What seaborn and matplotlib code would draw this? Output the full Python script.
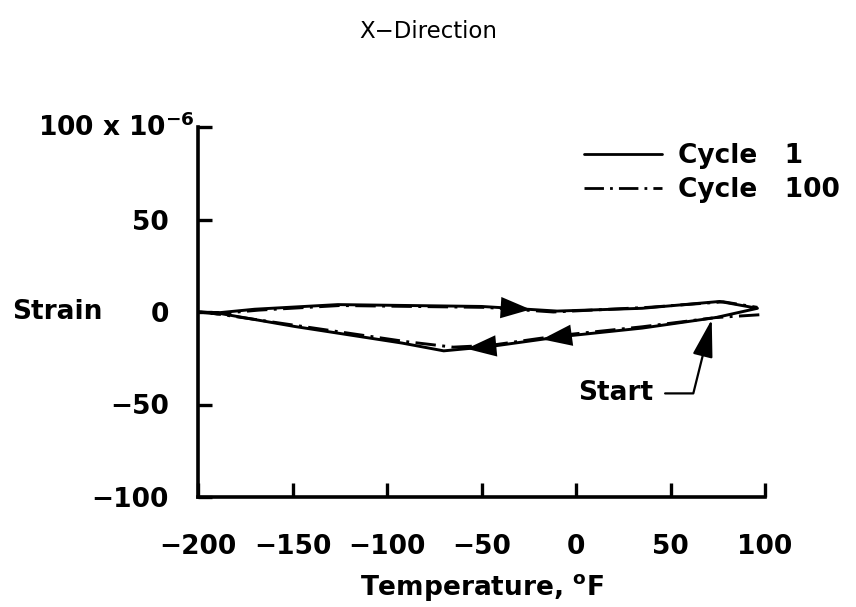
import numpy as np
import pandas as pd
import matplotlib
matplotlib.use("Agg")
import matplotlib.pyplot as plt
import matplotlib.transforms as mtransforms
import seaborn as sns

# ---------------- data ----------------
# Cycle 1: from the start point, cooling along the lower branch to -200 F,
# heating along the upper branch to ~100 F and back to the start.
temp_c1 = [72, 35, -7, -45, -70, -92, -149, -190, -200,
           -190, -170, -126, -50, -10, 35, 76, 96, 74]
strain_c1 = [-3.3, -8.7, -13.2, -18.6, -21.0, -16.8, -7.8, -0.5, 0.0,
             -0.5, 1.5, 4.0, 3.0, 0.5, 2.0, 5.7, 2.0, -3.0]

temp_c100 = [97, 74, 35, -7, -45, -65, -90, -150, -190, -200,
             -190, -168, -125, -48, -12, 38, 78, 96]
strain_c100 = [-1.5, -3.0, -8.0, -12.5, -18.0, -19.0, -16.0, -7.0, -1.0, 0.0,
               -1.0, 1.0, 3.5, 2.5, 0.0, 2.5, 5.5, 2.5]

series_labels = ["Cycle   1", "Cycle   100"]
x_ticks = [-200, -150, -100, -50, 0, 50, 100]
y_ticks = [-100, -50, 0, 50, 100]
y_tick_labels = ["\u2212100", "\u221250", "0", "50", ""]
x_tick_labels = ["\u2212200", "\u2212150", "\u2212100", "\u221250", "0", "50", "100"]

# arrow positions along the loop (temperatures)
arrow_heating = [-30]          # upper branch, pointing right
arrow_cooling = [-52, -12]     # lower branch, pointing left
start_temp, start_strain = temp_c1[0], strain_c1[0]

df = pd.concat([
    pd.DataFrame({"Temperature": temp_c1, "Strain": strain_c1,
                  "Cycle": series_labels[0], "order": range(len(temp_c1))}),
    pd.DataFrame({"Temperature": temp_c100, "Strain": strain_c100,
                  "Cycle": series_labels[1], "order": range(len(temp_c100))}),
])

# ---------------- style ----------------
sns.set_theme(style="ticks")
plt.rcParams["font.family"] = ["DejaVu Sans"]
plt.rcParams["font.weight"] = "bold"
plt.rcParams["text.color"] = "black"
plt.rcParams["axes.labelcolor"] = "black"
plt.rcParams["xtick.color"] = "black"
plt.rcParams["ytick.color"] = "black"
plt.rcParams["mathtext.fontset"] = "custom"
plt.rcParams["mathtext.rm"] = "DejaVu Sans:bold"
plt.rcParams["mathtext.it"] = "DejaVu Sans:bold"
plt.rcParams["mathtext.bf"] = "DejaVu Sans:bold"

FS = 19
fig = plt.figure(figsize=(8.56, 6.07), dpi=100)
ax = fig.add_axes([198 / 856, 1 - 497 / 607, (765 - 198) / 856, (497 - 127) / 607])

dashdot = (0, (7, 2.2, 1, 2.2))
sns.lineplot(data=df, x="Temperature", y="Strain", hue="Cycle", style="Cycle",
             units="Cycle", estimator=None, sort=False,
             palette=["black", "black"], dashes={series_labels[0]: "", series_labels[1]: dashdot[1]},
             linewidth=2.1, ax=ax, legend=False)

ax.set_xlim(-200, 100)
ax.set_ylim(-100, 100)
ax.set_xticks(x_ticks)
ax.set_xticklabels(x_tick_labels, fontsize=FS, fontweight="bold", color="black")
ax.set_yticks(y_ticks)
ax.set_yticklabels(y_tick_labels, fontsize=FS, fontweight="bold", color="black")
ax.tick_params(axis="both", direction="in", length=10, width=2.4, color="black")
ax.tick_params(axis="y", pad=21)
ax.tick_params(axis="x", pad=27)
sns.despine(ax=ax)
for s in ["left", "bottom"]:
    ax.spines[s].set_linewidth(2.6)
    ax.spines[s].set_color("black")

# 100 x 10^-6 label
ax.annotate("100 x 10$^{-6}$", xy=(0, y_ticks[-1]),
            xycoords=mtransforms.blended_transform_factory(ax.transAxes, ax.transData),
            xytext=(-3, -9), textcoords="offset pixels", ha="right", va="baseline",
            fontsize=FS, fontweight="bold", color="black")

ax.set_ylabel("Strain", rotation=0, fontsize=FS, fontweight="bold", ha="left", va="center",
              color="black")
ax.yaxis.set_label_coords(-0.328, 0.5)
ax.set_xlabel("Temperature, $^{\\mathrm{o}}$F", fontsize=FS, fontweight="bold", labelpad=8,
              color="black")

fig.text(0.5, 1 - 32 / 607, "X\u2212Direction", ha="center", va="center",
         fontsize=16.5, fontweight="normal", color="black")

# direction arrows on the loop
lower_T = np.array(temp_c1[0:9])[::-1]
lower_S = np.array(strain_c1[0:9])[::-1]
upper_T = np.array(temp_c1[9:17])
upper_S = np.array(strain_c1[9:17])
ap = dict(arrowstyle="-|>,head_length=0.9,head_width=0.32", color="black",
          lw=0, mutation_scale=24, shrinkA=0, shrinkB=0)
for t in arrow_heating:
    ax.annotate("", xy=(t + 6, np.interp(t + 6, upper_T, upper_S)),
                xytext=(t - 6, np.interp(t - 6, upper_T, upper_S)), arrowprops=ap)
for t in arrow_cooling:
    ax.annotate("", xy=(t - 6, np.interp(t - 6, lower_T, lower_S)),
                xytext=(t + 6, np.interp(t + 6, lower_T, lower_S)), arrowprops=ap)

# Start annotation
ax.annotate("Start", xy=(start_temp, start_strain), xytext=(41, -44),
            ha="right", va="center", fontsize=FS, fontweight="bold", color="black",
            arrowprops=dict(arrowstyle="-|>,head_length=1.3,head_width=0.35",
                            connectionstyle="angle,angleA=0,angleB=76,rad=0",
                            color="black", lw=1.6, mutation_scale=18,
                            relpos=(1, 0.5), shrinkA=6, shrinkB=1))

# legend
handles = [plt.Line2D([], [], color="black", lw=2.0),
           plt.Line2D([], [], color="black", lw=2.0, linestyle=dashdot)]
leg = fig.legend(handles, series_labels, loc="upper left",
                 bbox_to_anchor=(584 / 856, 1 - 143 / 607), frameon=False,
                 prop={"weight": "bold", "size": FS},
                 handlelength=2.95, handletextpad=0.6, labelspacing=0.32,
                 borderpad=0, borderaxespad=0)
for txt in leg.get_texts():
    txt.set_color("black")

fig.savefig("out.png", dpi=100)
